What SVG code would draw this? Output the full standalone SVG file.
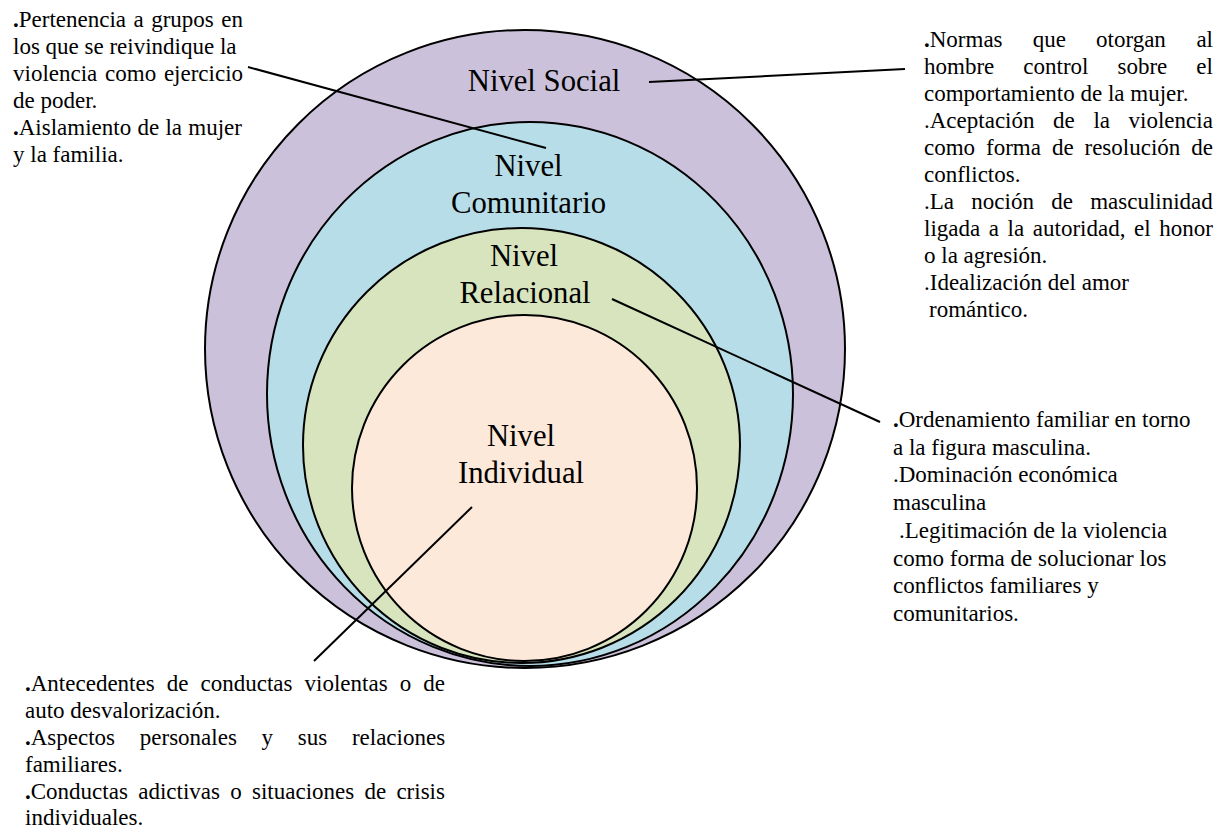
<svg xmlns="http://www.w3.org/2000/svg" width="1216" height="829" viewBox="0 0 1216 829">
<style>
.ring{stroke:#000;stroke-width:2}
.lvl{font-family:"Liberation Serif","Times New Roman",serif;font-size:30.7px;fill:#000;text-anchor:middle}
.txt{font-family:"Liberation Serif","Times New Roman",serif;font-size:23px;fill:#000}
.b{font-weight:bold}
.conn line{stroke:#000;stroke-width:2}
</style>
<rect width="1216" height="829" fill="#fff"/>
<g id="social">
<ellipse class="ring" cx="525" cy="349" rx="320" ry="319" fill="#CCC1DA"/>
</g>
<g id="comunitario">
<ellipse class="ring" cx="530" cy="394" rx="263" ry="272" fill="#B7DEE8"/>
</g>
<g id="relacional">
<ellipse class="ring" cx="521.5" cy="445.5" rx="218.5" ry="217.5" fill="#D7E4BD"/>
</g>
<g id="individual">
<ellipse class="ring" cx="524.5" cy="488" rx="172.5" ry="173" fill="#FDE9D9"/>
</g>
<g id="connectors" class="conn">
<line x1="649" y1="82" x2="905" y2="69"/>
<line x1="248" y1="67" x2="546" y2="148"/>
<line x1="612" y1="299" x2="880" y2="422"/>
<line x1="472" y1="507" x2="314" y2="661"/>
</g>
<g id="labels">
<text class="lvl" x="544" y="91">Nivel Social</text>
<text class="lvl" x="528.5" y="176">Nivel</text>
<text class="lvl" x="528.5" y="213">Comunitario</text>
<text class="lvl" x="524" y="266">Nivel</text>
<text class="lvl" x="525" y="303">Relacional</text>
<text class="lvl" x="521" y="446">Nivel</text>
<text class="lvl" x="521" y="483">Individual</text>
</g>
<g id="nota-comunitario">
<text class="txt" x="13" y="27" word-spacing="1.7"><tspan class="b">.</tspan>Pertenencia a grupos en</text>
<text class="txt" x="13" y="54">los que se reivindique la</text>
<text class="txt" x="13" y="81" word-spacing="2">violencia como ejercicio</text>
<text class="txt" x="13" y="108">de poder.</text>
<text class="txt" x="13" y="135" word-spacing="0.5"><tspan class="b">.</tspan>Aislamiento de la mujer</text>
<text class="txt" x="13" y="162">y la familia.</text>
</g>
<g id="nota-social">
<text class="txt" y="47"><tspan x="924" class="b">.</tspan><tspan>Normas</tspan><tspan x="1032.7">que</tspan><tspan x="1096">otorgan</tspan><tspan x="1196.4">al</tspan></text>
<text class="txt" y="74"><tspan x="924">hombre</tspan><tspan x="1023.3">control</tspan><tspan x="1117.5">sobre</tspan><tspan x="1196.3">el</tspan></text>
<text class="txt" x="924" y="101">comportamiento de la mujer.</text>
<text class="txt" y="128"><tspan x="924">.Aceptación</tspan><tspan x="1053.1">de</tspan><tspan x="1093.4">la</tspan><tspan x="1128.6">violencia</tspan></text>
<text class="txt" y="155"><tspan x="924">como</tspan><tspan x="986">forma</tspan><tspan x="1051.9">de</tspan><tspan x="1084.5">resolución</tspan><tspan x="1191.3">de</tspan></text>
<text class="txt" x="924" y="182">conflictos.</text>
<text class="txt" y="209"><tspan x="924">.La</tspan><tspan x="971.3">noción</tspan><tspan x="1051.2">de</tspan><tspan x="1090.2">masculinidad</tspan></text>
<text class="txt" y="236"><tspan x="924">ligada</tspan><tspan x="988.8">a</tspan><tspan x="1007.6">la</tspan><tspan x="1032.8">autoridad,</tspan><tspan x="1134">el</tspan><tspan x="1159.3">honor</tspan></text>
<text class="txt" x="924" y="263">o la agresión.</text>
<text class="txt" x="924" y="290">.Idealización del amor</text>
<text class="txt" x="929" y="317">romántico.</text>
</g>
<g id="nota-relacional">
<text class="txt" x="893" y="427"><tspan class="b">.</tspan>Ordenamiento familiar en torno</text>
<text class="txt" x="893" y="454.7">a la figura masculina.</text>
<text class="txt" x="893" y="482.4">.Dominación económica</text>
<text class="txt" x="893" y="510.1">masculina</text>
<text class="txt" x="899" y="537.8">.Legitimación de la violencia</text>
<text class="txt" x="893" y="565.5">como forma de solucionar los</text>
<text class="txt" x="893" y="593.2">conflictos familiares y</text>
<text class="txt" x="893" y="620.9">comunitarios.</text>
</g>
<g id="nota-individual">
<text class="txt" y="691"><tspan x="25" class="b">.</tspan><tspan>Antecedentes</tspan><tspan x="166.8">de</tspan><tspan x="200.5">conductas</tspan><tspan x="304.6">violentas</tspan><tspan x="399.8">o</tspan><tspan x="423.3">de</tspan></text>
<text class="txt" x="25" y="718">auto desvalorización.</text>
<text class="txt" y="745"><tspan x="25" class="b">.</tspan><tspan>Aspectos</tspan><tspan x="139.8">personales</tspan><tspan x="261.6">y</tspan><tspan x="297.8">sus</tspan><tspan x="351.9">relaciones</tspan></text>
<text class="txt" x="25" y="772">familiares.</text>
<text class="txt" y="799"><tspan x="25" class="b">.</tspan><tspan>Conductas</tspan><tspan x="138.2">adictivas</tspan><tspan x="230.2">o</tspan><tspan x="252">situaciones</tspan><tspan x="364.4">de</tspan><tspan x="396.4">crisis</tspan></text>
<text class="txt" x="25" y="825">individuales.</text>
</g>
</svg>
